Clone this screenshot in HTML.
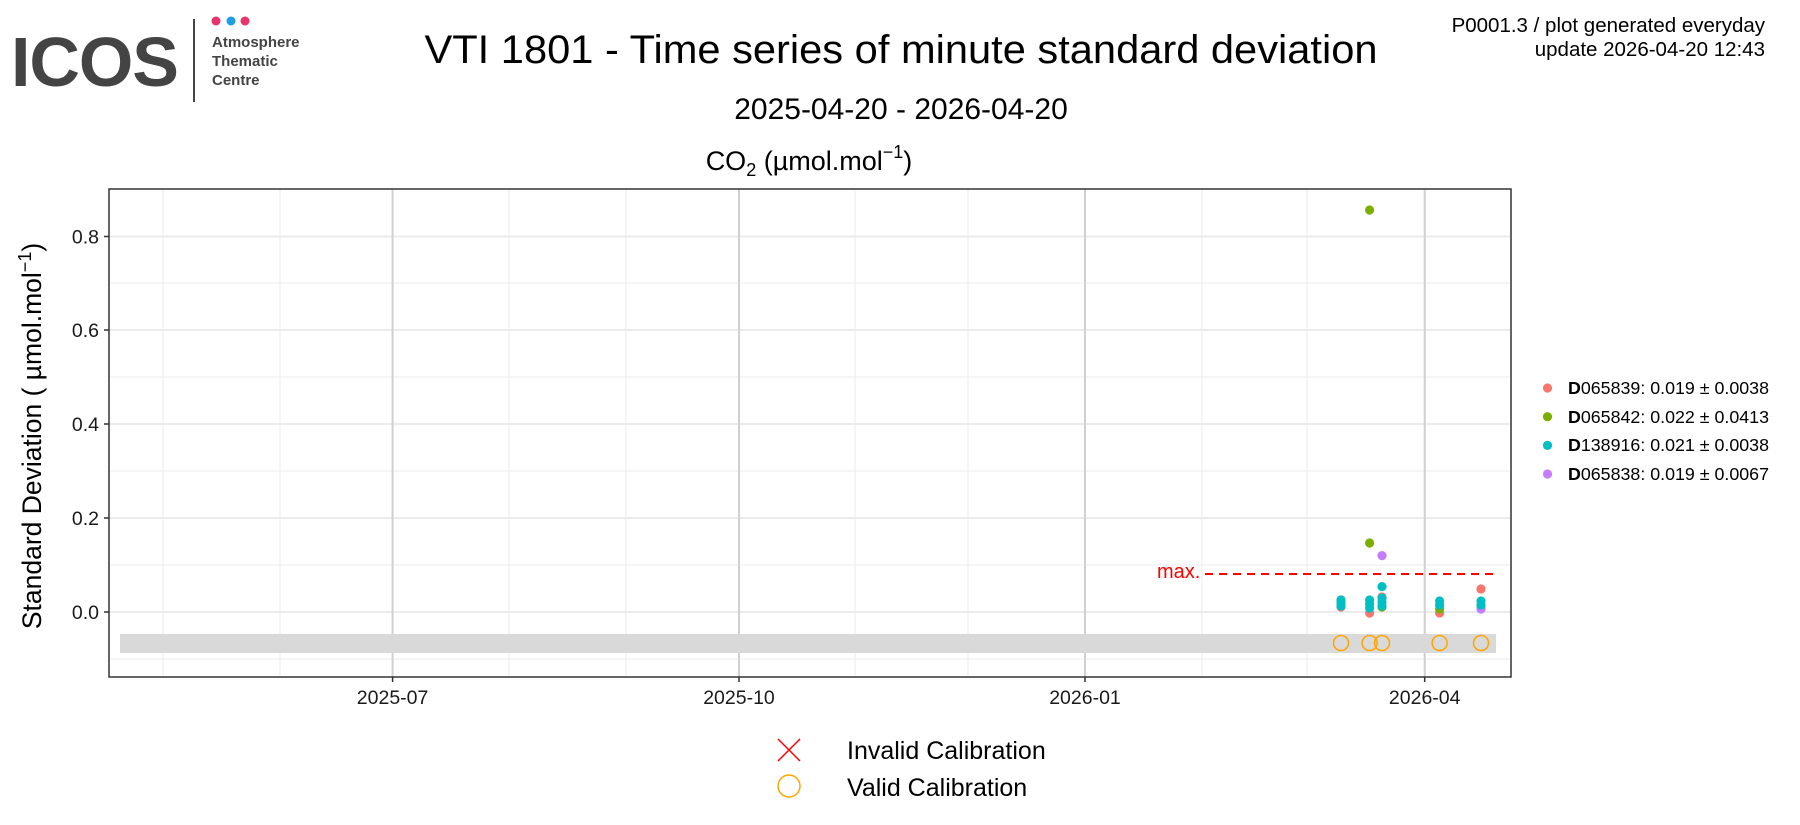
<!DOCTYPE html>
<html><head><meta charset="utf-8"><style>
html,body{margin:0;padding:0;background:#fff;}
svg{display:block;font-family:"Liberation Sans",sans-serif;}
</style></head><body>
<svg width="1800" height="825" viewBox="0 0 1800 825" xmlns="http://www.w3.org/2000/svg">
<!-- logo -->
<text x="11" y="86" font-size="70" font-weight="bold" fill="#444" textLength="168" lengthAdjust="spacing">ICOS</text>
<line x1="194" y1="19" x2="194" y2="102" stroke="#444" stroke-width="2"/>
<circle cx="216" cy="21" r="4.5" fill="#e8336f"/><circle cx="231" cy="21" r="4.5" fill="#1d9ee9"/><circle cx="245" cy="21" r="4.5" fill="#e8336f"/>
<g font-size="15" font-weight="bold" fill="#444"><text x="212" y="47">Atmosphere</text><text x="212" y="66">Thematic</text><text x="212" y="85">Centre</text></g>
<!-- titles -->
<text x="901" y="63" font-size="40" text-anchor="middle" textLength="953" lengthAdjust="spacingAndGlyphs">VTI 1801 - Time series of minute standard deviation</text>
<text x="901" y="119" font-size="30" text-anchor="middle">2025-04-20 - 2026-04-20</text>
<text x="809" y="170" font-size="27" text-anchor="middle">CO<tspan font-size="18" dy="6">2</tspan><tspan dy="-6"> (µmol.mol</tspan><tspan font-size="18" dy="-12">−1</tspan><tspan dy="12">)</tspan></text>
<g font-size="20.5" text-anchor="end"><text x="1765" y="32">P0001.3 / plot generated everyday</text><text x="1765" y="56">update  2026-04-20 12:43</text></g>
<!-- panel -->
<rect x="109" y="189" width="1402" height="488" fill="#fff"/>
<g stroke="#ebebeb" stroke-width="1">
<line x1="109" x2="1511" y1="659" y2="659"/><line x1="109" x2="1511" y1="565" y2="565"/><line x1="109" x2="1511" y1="471" y2="471"/><line x1="109" x2="1511" y1="377" y2="377"/><line x1="109" x2="1511" y1="283" y2="283"/>
<line y1="189" y2="677" x1="163" x2="163"/><line y1="189" y2="677" x1="280" x2="280"/><line y1="189" y2="677" x1="509" x2="509"/><line y1="189" y2="677" x1="626" x2="626"/><line y1="189" y2="677" x1="855" x2="855"/><line y1="189" y2="677" x1="968" x2="968"/><line y1="189" y2="677" x1="1202" x2="1202"/><line y1="189" y2="677" x1="1307" x2="1307"/>
</g>
<g stroke="#ebebeb" stroke-width="2">
<line x1="109" x2="1511" y1="612" y2="612"/><line x1="109" x2="1511" y1="518" y2="518"/><line x1="109" x2="1511" y1="424" y2="424"/><line x1="109" x2="1511" y1="330" y2="330"/><line x1="109" x2="1511" y1="236.5" y2="236.5"/>
</g>
<g stroke="#d0d0d0" stroke-width="2">
<line y1="189" y2="677" x1="392.6" x2="392.6"/><line y1="189" y2="677" x1="739" x2="739"/><line y1="189" y2="677" x1="1085" x2="1085"/><line y1="189" y2="677" x1="1424.7" x2="1424.7"/>
</g>
<rect x="120" y="634" width="1376" height="19" fill="#d9d9d9"/>
<line x1="1205" x2="1496" y1="574" y2="574" stroke="#ff0000" stroke-width="2" stroke-dasharray="8,6"/>
<text x="1157" y="578" font-size="20" fill="#ff0000">max.</text>
<!-- points -->
<g fill="#F8766D"><circle cx="1341" cy="607" r="4.6"/><circle cx="1369.6" cy="613" r="4.6"/><circle cx="1382" cy="597" r="4.6"/><circle cx="1439.6" cy="613" r="4.6"/><circle cx="1481" cy="589" r="4.6"/></g>
<g fill="#7CAE00"><circle cx="1369.6" cy="210" r="4.6"/><circle cx="1369.6" cy="543" r="4.6"/><circle cx="1382" cy="607" r="4.6"/><circle cx="1481" cy="608" r="4.6"/><circle cx="1439.6" cy="609" r="4.6"/></g>
<g fill="#C77CFF"><circle cx="1382" cy="555.6" r="4.6"/><circle cx="1481" cy="609" r="4.6"/><circle cx="1341" cy="600" r="4.6"/></g>
<g fill="#00BFC4">
<circle cx="1341" cy="600" r="4.6"/><circle cx="1341" cy="603" r="4.6"/><circle cx="1341" cy="606" r="4.6"/>
<circle cx="1369.6" cy="600" r="4.6"/><circle cx="1369.6" cy="604" r="4.6"/><circle cx="1369.6" cy="608" r="4.6"/>
<circle cx="1382" cy="586.6" r="4.6"/><circle cx="1382" cy="598" r="4.6"/><circle cx="1382" cy="602" r="4.6"/><circle cx="1382" cy="606" r="4.6"/>
<circle cx="1439.6" cy="601" r="4.6"/><circle cx="1439.6" cy="605" r="4.6"/>
<circle cx="1481" cy="601" r="4.6"/><circle cx="1481" cy="605" r="4.6"/>
</g>
<g fill="none" stroke="#FFA500" stroke-width="1.5">
<circle cx="1341" cy="643" r="7.5"/><circle cx="1369.6" cy="643" r="7.5"/><circle cx="1382" cy="643" r="7.5"/><circle cx="1439.6" cy="643" r="7.5"/><circle cx="1481" cy="643" r="7.5"/>
</g>
<rect x="109" y="189" width="1402" height="488" fill="none" stroke="#333" stroke-width="1.5"/>
<!-- axes ticks -->
<g stroke="#333" stroke-width="1.5">
<line x1="104" x2="109" y1="612" y2="612"/><line x1="104" x2="109" y1="518" y2="518"/><line x1="104" x2="109" y1="424" y2="424"/><line x1="104" x2="109" y1="330" y2="330"/><line x1="104" x2="109" y1="236.5" y2="236.5"/>
<line y1="677" y2="682" x1="392.6" x2="392.6"/><line y1="677" y2="682" x1="739" x2="739"/><line y1="677" y2="682" x1="1085" x2="1085"/><line y1="677" y2="682" x1="1424.7" x2="1424.7"/>
</g>
<g font-size="19.5" text-anchor="end" fill="#1a1a1a"><text x="99" y="619">0.0</text><text x="99" y="525">0.2</text><text x="99" y="431">0.4</text><text x="99" y="337">0.6</text><text x="99" y="243.5">0.8</text></g>
<g font-size="19.5" text-anchor="middle" fill="#1a1a1a"><text x="392.6" y="704">2025-07</text><text x="739" y="704">2025-10</text><text x="1085" y="704">2026-01</text><text x="1424.7" y="704">2026-04</text></g>
<text transform="translate(41,436) rotate(-90)" font-size="26.5" text-anchor="middle">Standard Deviation ( µmol.mol<tspan font-size="18" dy="-10">−1</tspan><tspan dy="10">)</tspan></text>
<!-- legend -->
<circle cx="1547.5" cy="388" r="4.6" fill="#F8766D"/><circle cx="1547.5" cy="416.7" r="4.6" fill="#7CAE00"/><circle cx="1547.5" cy="445.4" r="4.6" fill="#00BFC4"/><circle cx="1547.5" cy="474" r="4.6" fill="#C77CFF"/>
<g font-size="17.5">
<text x="1568" y="394" textLength="201" lengthAdjust="spacingAndGlyphs"><tspan font-weight="bold">D</tspan>065839: 0.019 ± 0.0038</text>
<text x="1568" y="423" textLength="201" lengthAdjust="spacingAndGlyphs"><tspan font-weight="bold">D</tspan>065842: 0.022 ± 0.0413</text>
<text x="1568" y="451" textLength="201" lengthAdjust="spacingAndGlyphs"><tspan font-weight="bold">D</tspan>138916: 0.021 ± 0.0038</text>
<text x="1568" y="480" textLength="201" lengthAdjust="spacingAndGlyphs"><tspan font-weight="bold">D</tspan>065838: 0.019 ± 0.0067</text>
</g>
<g stroke="#ff0000" stroke-width="1.5"><line x1="778" y1="739" x2="800" y2="761"/><line x1="800" y1="739" x2="778" y2="761"/></g>
<circle cx="789" cy="786" r="11" fill="none" stroke="#FFA500" stroke-width="1.5"/>
<g font-size="25"><text x="847" y="759">Invalid Calibration</text><text x="847" y="796">Valid Calibration</text></g>
</svg>
</body></html>
